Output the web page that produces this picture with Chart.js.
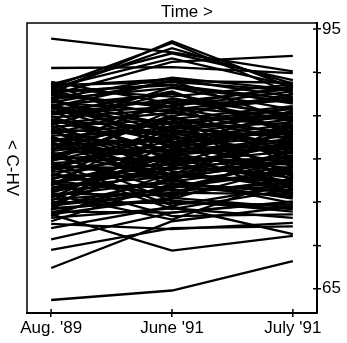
<!DOCTYPE html>
<html>
<head>
<meta charset="utf-8">
<script src="https://cdn.jsdelivr.net/npm/chart.js@4/dist/chart.umd.min.js"></script>
<style>
  html, body { margin: 0; padding: 0; background: #fff; }
  #wrap { width: 347px; height: 343px; }
</style>
</head>
<body>
<div id="wrap"><canvas id="c"></canvas></div>
<script>
// ─── Dane ────────────────────────────────────────────────────────────────────

const categories = ["Aug. '89", "June '91", "July '91"];
const yTickValues = [65, 70, 75, 80, 85, 90, 95];
const yTickLabels = { 65: '65', 95: '95' };

// one entry per subject, index-aligned across the three arrays
const augValues = [
  93.9, 87.6, 88.3, 90.5, 87.4, 88.0, 88.6, 88.2, 87.0, 88.4, 86.5, 87.8,
  88.5, 88.1, 87.7, 87.3, 86.9, 86.6, 86.2, 85.8, 85.5, 85.1, 84.8, 84.4, 84.1, 83.7, 83.4,
  83.0, 82.7, 82.3, 82.0, 81.6, 81.3, 80.9, 80.6, 80.2, 79.9, 79.5, 79.2, 78.8, 78.5, 78.1,
  77.8, 77.4, 77.1, 76.7, 76.4, 76.0, 75.7, 75.3, 75.0, 74.6, 74.3, 73.9, 73.6, 73.2,
  87.9, 86.3, 84.9, 83.2, 81.8, 80.4, 78.9, 77.6, 76.2, 74.8, 73.4, 72.8, 88.7, 87.1,
  85.6, 84.2, 82.5, 80.8, 79.1, 77.3, 75.5, 74.1, 76.9, 79.7, 81.1, 83.9, 86.0, 88.9,
  75.9, 74.5, 78.3, 81.9, 84.6, 86.7, 80.0, 82.9, 77.0, 85.3, 79.4, 83.5,
  86.8, 85.2, 83.8, 82.1, 80.5, 79.0, 77.5, 76.1, 74.7, 85.9, 84.0, 82.6, 81.0, 79.6, 78.0,
  76.5, 75.2, 73.8, 87.5, 84.5, 81.4, 78.6, 75.6, 86.1, 83.3, 80.3, 77.2, 74.2, 82.4, 79.8,
  63.7, 67.4, 69.5, 73.6, 70.7, 72.0, 72.5,
];
const juneValues = [
  92.3, 93.6, 93.4, 90.6, 91.2, 92.8, 92.2, 91.6, 89.4, 89.2, 89.0, 88.5,
  88.9, 87.2, 88.6, 86.1, 88.2, 85.4, 87.5, 86.6, 84.2, 86.9, 85.7, 83.6, 85.3, 84.6, 82.8,
  84.1, 83.2, 81.9, 83.7, 82.3, 80.8, 82.6, 81.4, 79.9, 81.1, 80.3, 78.8, 80.1, 79.4, 77.9,
  79.0, 78.3, 76.7, 78.0, 77.2, 75.8, 77.5, 76.4, 74.9, 76.1, 75.2, 73.8, 75.5, 74.3,
  84.8, 82.5, 80.6, 79.2, 77.4, 76.3, 82.9, 81.7, 80.4, 79.6, 78.4, 77.1, 83.1, 81.2,
  79.7, 78.1, 76.9, 75.1, 74.2, 73.4, 81.8, 83.4, 84.4, 85.6, 87.0, 88.3, 89.0, 86.4,
  73.0, 77.7, 75.6, 78.6, 82.0, 83.9, 84.9, 86.2, 80.7, 87.8, 77.6, 80.2,
  83.0, 86.0, 79.3, 84.3, 78.2, 82.1, 75.9, 80.0, 76.6, 81.5, 87.7, 77.8, 85.0, 74.6, 83.5,
  79.1, 81.0, 76.8, 85.9, 80.9, 86.7, 83.8, 78.9, 82.4, 77.3, 84.7, 80.5, 75.4, 79.5, 82.8,
  64.8, 72.8, 72.0, 69.4, 73.8, 74.5, 71.9,
];
const julyValues = [
  90.1, 88.2, 87.5, 89.9, 91.9, 88.7, 89.1, 88.4, 88.0, 87.2, 88.8, 86.9,
  87.9, 88.6, 86.4, 87.8, 85.7, 86.9, 84.8, 88.1, 85.9, 84.3, 87.2, 84.9, 83.7, 86.1, 82.9,
  85.2, 81.8, 83.6, 82.4, 84.0, 81.2, 80.6, 82.7, 79.8, 81.5, 78.9, 80.4, 79.3, 77.8, 79.6,
  78.2, 76.9, 78.5, 77.4, 76.1, 77.7, 75.4, 76.8, 74.7, 75.9, 73.9, 75.1, 74.4, 73.2,
  82.2, 80.7, 78.4, 81.9, 79.1, 77.2, 84.6, 83.3, 82.1, 80.9, 79.7, 76.3, 85.4, 83.8,
  80.1, 77.5, 75.6, 74.2, 76.5, 73.6, 78.6, 81.1, 83.0, 82.6, 85.1, 86.6, 84.4, 86.7,
  77.9, 80.0, 81.3, 76.6, 79.4, 81.6, 87.5, 88.4, 83.9, 83.1, 74.9, 77.0,
  80.3, 84.7, 82.0, 78.1, 83.4, 76.0, 81.0, 77.3, 79.9, 85.6, 82.8, 80.8, 77.9, 76.9, 84.2,
  81.7, 75.7, 78.8, 83.5, 82.3, 79.0, 85.8, 80.2, 78.0, 84.5, 76.4, 81.4, 79.1, 83.2, 77.6,
  68.2, 74.5, 72.2, 71.1, 75.0, 71.3, 72.6,
];

const FONT = { family: 'Liberation Sans, Arial, sans-serif', size: 17 };

// ─── Ramka, etykieta osi Y, krzyżyki ticków ─────────────────────────────────

const framePlugin = {
  id: 'frame',
  afterDatasetsDraw(chart) {
    const { ctx, chartArea: a, scales } = chart;
    ctx.save();
    ctx.strokeStyle = '#000';
    ctx.lineWidth = 1.5;
    ctx.beginPath();
    ctx.moveTo(a.left, a.bottom);
    ctx.lineTo(a.left, a.top);
    ctx.lineTo(a.right, a.top);
    ctx.stroke();

    // inner halves of the tick marks
    ctx.beginPath();
    yTickValues.forEach(v => {
      const y = scales.y.getPixelForValue(v);
      ctx.moveTo(a.right - 4, y);
      ctx.lineTo(a.right, y);
    });
    categories.forEach((c, i) => {
      const x = scales.x.getPixelForValue(i);
      ctx.moveTo(x, a.bottom - 4);
      ctx.lineTo(x, a.bottom);
    });
    ctx.stroke();

    // "< C-HV" read top to bottom
    ctx.translate(12, (a.top + a.bottom) / 2);
    ctx.rotate(Math.PI / 2);
    ctx.fillStyle = '#000';
    ctx.font = `${FONT.size}px ${FONT.family}`;
    ctx.textAlign = 'center';
    ctx.textBaseline = 'middle';
    ctx.fillText('< C-HV', 0, 0);
    ctx.restore();
  },
};

// ─── Wykres ─────────────────────────────────────────────────────────────────

const datasets = augValues.map((v, i) => ({
  data: [
    { x: 0, y: v },
    { x: 1, y: juneValues[i] },
    { x: 2, y: julyValues[i] },
  ],
  borderColor: '#000',
  borderWidth: 2.3,
  pointRadius: 0,
  tension: 0,
  fill: false,
}));

new Chart(document.getElementById('c'), {
  type: 'line',
  data: { datasets },
  plugins: [framePlugin],
  options: {
    responsive: true,
    maintainAspectRatio: false,
    animation: false,
    events: [],
    layout: { padding: { left: 27, top: 0, right: 0, bottom: 0 } },
    scales: {
      x: {
        type: 'linear',
        min: -0.2,
        max: 2.2,
        afterBuildTicks: s => { s.ticks = categories.map((c, i) => ({ value: i })); },
        afterFit: s => { s.height = 30; },
        ticks: {
          color: '#000',
          font: FONT,
          padding: 1,
          maxRotation: 0,
          autoSkip: false,
          callback: v => categories[v],
        },
        grid: { drawOnChartArea: false, color: '#000', lineWidth: 1.5, tickLength: 4 },
        border: { color: '#000', width: 2 },
      },
      y: {
        position: 'right',
        min: 62.2,
        max: 95.7,
        afterBuildTicks: s => { s.ticks = yTickValues.map(v => ({ value: v })); },
        afterFit: s => { s.width = 30; },
        ticks: {
          color: '#000',
          font: FONT,
          padding: 1,
          autoSkip: false,
          callback: v => yTickLabels[v] || '',
        },
        grid: { drawOnChartArea: false, color: '#000', lineWidth: 1.5, tickLength: 4 },
        border: { color: '#000', width: 2 },
      },
    },
    plugins: {
      legend: { display: false },
      tooltip: { enabled: false },
      title: {
        display: true,
        text: 'Time >',
        color: '#000',
        font: { family: FONT.family, size: 17, weight: 'normal', lineHeight: 1.2 },
        padding: { top: 2, bottom: 0.6 },
      },
    },
  },
});
</script>
</body>
</html>
